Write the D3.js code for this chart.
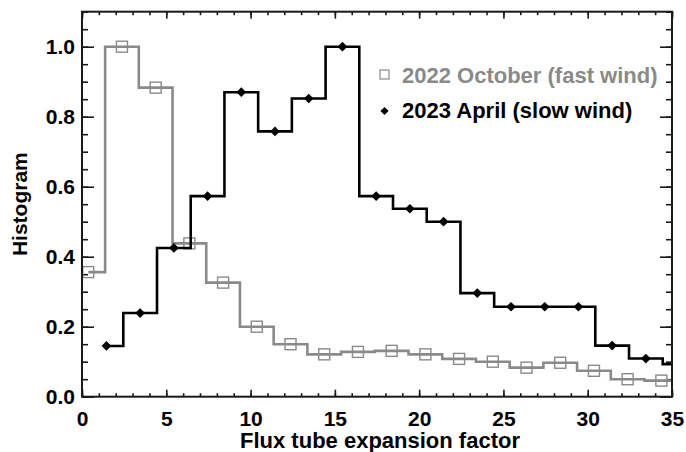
<!DOCTYPE html>
<html>
<head>
<meta charset="utf-8">
<script src="https://cdn.jsdelivr.net/npm/d3@7"></script>
<style>
  html, body { margin: 0; padding: 0; background: #fff; }
  svg { display: block; font-family: "Liberation Sans", Arial, Helvetica, sans-serif; font-weight: bold; }
</style>
</head>
<body>
<svg id="chart" width="686" height="452"></svg>
<script>
// Bin centres and normalised counts for each period
const fastBins = [0.37, 2.37, 4.37, 6.37, 8.37, 10.37, 12.37, 14.37, 16.37, 18.37,
                  20.37, 22.37, 24.37, 26.37, 28.37, 30.37, 32.37, 34.37, 36.37];
const fastHist = [0.356, 1.0, 0.883, 0.438, 0.326, 0.200, 0.150, 0.121, 0.128, 0.131,
                  0.121, 0.108, 0.100, 0.083, 0.097, 0.074, 0.050, 0.046, 0.046];

const slowBins = [1.45, 3.45, 5.45, 7.45, 9.45, 11.45, 13.45, 15.45, 17.45,
                  19.45, 21.45, 23.45, 25.45, 27.45, 29.45, 31.45, 33.45, 35.45];
const slowHist = [0.145, 0.239, 0.425, 0.573, 0.870, 0.758, 0.852, 1.0, 0.573,
                  0.537, 0.500, 0.296, 0.257, 0.257, 0.257, 0.146, 0.109, 0.093];

const seriesNames = ["2022 October (fast wind)", "2023 April (slow wind)"];

const xMajor = [0, 5, 10, 15, 20, 25, 30, 35];
const xMinor = d3.range(0, 36, 1);
const yMajor = [0.0, 0.2, 0.4, 0.6, 0.8, 1.0];
const yMinor = d3.range(0, 1.101, 0.05);

const xTitle = "Flux tube expansion factor";
const yTitle = "Histogram";

const GRAY = "#8a8a8a";
const AXIS = "#1a1a1a";

const svg = d3.select("#chart");
const L = 82, R = 672, T = 11.7, B = 396.7;

const x = d3.scaleLinear().domain([0, 35]).range([L, R]);
const y = d3.scaleLinear().domain([0, 1.1]).range([B, T]);

svg.append("defs").append("clipPath").attr("id", "plotClip")
  .append("rect").attr("x", L).attr("y", T).attr("width", R - L).attr("height", B - T);

// ---- axes: ticks pointing inward on all four sides ----
function styleAxis(g) {
  g.select(".domain").remove();
  g.selectAll(".tick line").attr("stroke", AXIS).attr("stroke-width", 1.6);
  g.selectAll(".tick text").attr("fill", "#000").style("font-size", "21px").style("font-weight", "bold");
}

svg.append("g").attr("transform", `translate(0,${B})`)
  .call(d3.axisBottom(x).tickValues(xMinor).tickFormat("").tickSize(-3.5)).call(styleAxis);
svg.append("g").attr("transform", `translate(0,${B})`)
  .call(d3.axisBottom(x).tickValues(xMajor).tickFormat(d3.format("d")).tickSize(-7).tickPadding(14.4))
  .call(styleAxis);
svg.append("g").attr("transform", `translate(0,${T})`)
  .call(d3.axisTop(x).tickValues(xMinor).tickFormat("").tickSize(-3.5)).call(styleAxis);
svg.append("g").attr("transform", `translate(0,${T})`)
  .call(d3.axisTop(x).tickValues(xMajor).tickFormat("").tickSize(-7)).call(styleAxis);

svg.append("g").attr("transform", `translate(${L},0)`)
  .call(d3.axisLeft(y).tickValues(yMinor).tickFormat("").tickSize(-6)).call(styleAxis);
svg.append("g").attr("transform", `translate(${L},0)`)
  .call(d3.axisLeft(y).tickValues(yMajor).tickFormat(d3.format(".1f")).tickSize(-12).tickPadding(7))
  .call(styleAxis);
svg.append("g").attr("transform", `translate(${R},0)`)
  .call(d3.axisRight(y).tickValues(yMinor).tickFormat("").tickSize(-6)).call(styleAxis);
svg.append("g").attr("transform", `translate(${R},0)`)
  .call(d3.axisRight(y).tickValues(yMajor).tickFormat("").tickSize(-12)).call(styleAxis);

// ---- step histograms ----
const step = d3.line().x(d => x(d[0])).y(d => y(d[1])).curve(d3.curveStep);
const plot = svg.append("g").attr("clip-path", "url(#plotClip)");

const fastPts = fastBins.map((b, i) => [b, fastHist[i]]);
const slowPts = slowBins.map((b, i) => [b, slowHist[i]]);

plot.append("path").attr("d", step(fastPts))
  .attr("fill", "none").attr("stroke", GRAY).attr("stroke-width", 2.6);
plot.selectAll("rect.fastMark").data(fastPts.filter(d => d[0] <= 35)).join("rect")
  .attr("class", "fastMark")
  .attr("x", d => x(d[0]) - 5.5).attr("y", d => y(d[1]) - 5.5)
  .attr("width", 11).attr("height", 11)
  .attr("fill", "none").attr("stroke", GRAY).attr("stroke-width", 1.4);

plot.append("path").attr("d", step(slowPts))
  .attr("fill", "none").attr("stroke", "#000").attr("stroke-width", 2.6);
const diamond = d3.symbol().type(d3.symbolDiamond2).size(60);
plot.selectAll("path.slowMark").data(slowPts.filter(d => d[0] <= 35)).join("path")
  .attr("class", "slowMark")
  .attr("transform", d => `translate(${x(d[0])},${y(d[1])})`)
  .attr("d", diamond).attr("fill", "#000");

// ---- frame ----
svg.append("rect").attr("x", L).attr("y", T).attr("width", R - L).attr("height", B - T)
  .attr("fill", "none").attr("stroke", AXIS).attr("stroke-width", 2);

// ---- axis titles ----
svg.append("text").attr("x", (L + R) / 2 + 3).attr("y", 448)
  .attr("text-anchor", "middle").style("font-size", "22px").text(xTitle);
svg.append("text").attr("transform", `translate(27,${(T + B) / 2}) rotate(-90)`)
  .attr("text-anchor", "middle").style("font-size", "21px").text(yTitle);

// ---- legend ----
const legend = svg.append("g");
legend.append("rect").attr("x", 380).attr("y", 70).attr("width", 9).attr("height", 9)
  .attr("fill", "none").attr("stroke", GRAY).attr("stroke-width", 1.2);
legend.append("text").attr("x", 402).attr("y", 83.3).attr("fill", GRAY)
  .style("font-size", "22px").text(seriesNames[0]);
legend.append("path").attr("transform", "translate(384.5,111)")
  .attr("d", d3.symbol().type(d3.symbolDiamond2).size(42)).attr("fill", "#000");
legend.append("text").attr("x", 402).attr("y", 118.3).attr("fill", "#000")
  .style("font-size", "22px").text(seriesNames[1]);
</script>
</body>
</html>
